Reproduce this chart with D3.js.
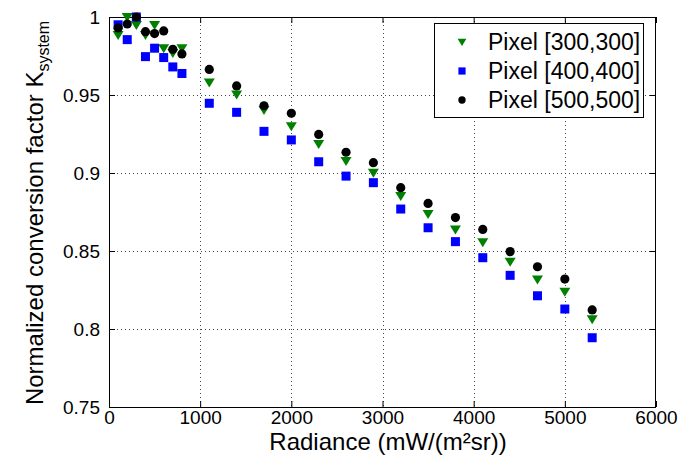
<!DOCTYPE html>
<html>
<head>
<meta charset="utf-8">
<script src="https://cdn.jsdelivr.net/npm/d3@7"></script>
<style>
  html, body { margin: 0; padding: 0; background: #fff; }
  svg { display: block; font-family: "Liberation Sans", Arial, Helvetica, sans-serif; }
</style>
</head>
<body>
<svg id="chart" width="694" height="462"></svg>
<script>
const radiance = [100, 200, 300, 400, 500, 600, 700, 800, 1100, 1400, 1700, 2000, 2300, 2600, 2900, 3200, 3500, 3800, 4100, 4400, 4700, 5000, 5300];
const pixel300 = [0.9885, 1.000, 0.9949, 0.9885, 0.9949, 0.980, 0.977, 0.980, 0.958, 0.9504, 0.9404, 0.930, 0.9186, 0.9077, 0.9002, 0.8853, 0.8737, 0.8638, 0.8556, 0.8431, 0.8318, 0.8239, 0.8062];
const pixel400 = [0.995, 0.9855, 1.000, 0.9746, 0.980, 0.974, 0.968, 0.9638, 0.9447, 0.9389, 0.9267, 0.9212, 0.9072, 0.898, 0.8938, 0.8769, 0.8649, 0.856, 0.8457, 0.8344, 0.8213, 0.8128, 0.7944];
const pixel500 = [0.993, 0.9955, 1.000, 0.9906, 0.9894, 0.9911, 0.9793, 0.9763, 0.9664, 0.9558, 0.9431, 0.9383, 0.9247, 0.9133, 0.9066, 0.8906, 0.8805, 0.8714, 0.8638, 0.8496, 0.8399, 0.832, 0.8122];
const seriesNames = ["Pixel [300,300]", "Pixel [400,400]", "Pixel [500,500]"];
const xTicks = [0, 1000, 2000, 3000, 4000, 5000, 6000];
const yTicks = [0.75, 0.8, 0.85, 0.9, 0.95, 1];
const yTickLabels = ["0.75", "0.8", "0.85", "0.9", "0.95", "1"];

const svg = d3.select("#chart");
const L = 109, R = 656, T = 17, B = 407;
const x = d3.scaleLinear().domain([0, 6000]).range([L, R]);
const y = d3.scaleLinear().domain([0.75, 1]).range([B, T]);

const series = [
  { name: seriesNames[0], values: pixel300, color: "#008000", shape: "tri" },
  { name: seriesNames[1], values: pixel400, color: "#0000ff", shape: "sq" },
  { name: seriesNames[2], values: pixel500, color: "#000000", shape: "circ" }
];

// grid
const grid = svg.append("g").attr("stroke", "#444").attr("stroke-width", 1).attr("stroke-dasharray", "1,3");
xTicks.slice(1, -1).forEach(t => {
  grid.append("line").attr("x1", Math.round(x(t)) + 0.5).attr("x2", Math.round(x(t)) + 0.5).attr("y1", T).attr("y2", B);
});
yTicks.slice(1, -1).forEach(t => {
  grid.append("line").attr("x1", L).attr("x2", R).attr("y1", Math.round(y(t)) + 0.5).attr("y2", Math.round(y(t)) + 0.5);
});

// axes
const fmt = d => yTickLabels[yTicks.indexOf(d)];
const xAxis = svg.append("g").attr("transform", `translate(0,${B})`)
  .call(d3.axisBottom(x).tickValues(xTicks).tickSize(-6).tickPadding(3).tickFormat(d3.format("d")));
const xAxisTop = svg.append("g").attr("transform", `translate(0,${T})`)
  .call(d3.axisTop(x).tickValues(xTicks).tickSize(-6).tickFormat(""));
const yAxis = svg.append("g").attr("transform", `translate(${L},0)`)
  .call(d3.axisLeft(y).tickValues(yTicks).tickSize(-6).tickPadding(9).tickFormat(fmt));
const yAxisR = svg.append("g").attr("transform", `translate(${R},0)`)
  .call(d3.axisRight(y).tickValues(yTicks).tickSize(-6).tickFormat(""));
[xAxis, xAxisTop, yAxis, yAxisR].forEach(g => {
  g.select(".domain").remove();
  g.selectAll(".tick line").attr("stroke", "#000");
  g.selectAll("text").attr("font-size", 19).attr("fill", "#000")
    .attr("font-family", "'Liberation Sans', Arial, Helvetica, sans-serif");
});
xAxis.selectAll("text").attr("dy", "0.72em");

svg.append("rect").attr("x", L + 0.5).attr("y", T + 0.5).attr("width", R - L - 1).attr("height", B - T)
  .attr("fill", "none").attr("stroke", "#000").attr("stroke-width", 1);

// markers
function drawMarker(g, shape, color, cx, cy, s) {
  if (shape === "tri") {
    g.append("path").attr("d", `M${cx - 5.5 * s},${cy - 4 * s}L${cx + 5.5 * s},${cy - 4 * s}L${cx},${cy + 5 * s}Z`).attr("fill", color);
  } else if (shape === "sq") {
    g.append("rect").attr("x", cx - 4.5 * s).attr("y", cy - 4.5 * s).attr("width", 9 * s).attr("height", 9 * s).attr("fill", color);
  } else {
    g.append("circle").attr("cx", cx).attr("cy", cy).attr("r", 4.6 * s).attr("fill", color);
  }
}
const marks = svg.append("g");
series.forEach(s => {
  const g = marks.append("g");
  s.values.forEach((v, i) => drawMarker(g, s.shape, s.color, x(radiance[i]), y(v), 1));
});

// legend
const lg = svg.append("g");
lg.append("rect").attr("x", 434.5).attr("y", 23.5).attr("width", 209).attr("height", 94)
  .attr("fill", "#fff").attr("stroke", "#000").attr("stroke-width", 1);
const rowY = [42, 71, 100];
series.forEach((s, i) => {
  drawMarker(lg, s.shape, s.color, 462, rowY[i], 0.8);
  lg.append("text").attr("x", 488).attr("y", rowY[i]).attr("dy", "0.36em")
    .attr("font-size", 23).attr("fill", "#000").text(s.name);
});

// axis labels
svg.append("text").attr("x", 388).attr("y", 450).attr("text-anchor", "middle")
  .attr("font-size", 24).attr("fill", "#000").text("Radiance (mW/(m²sr))");
const yl = svg.append("text").attr("transform", "translate(43,213) rotate(-90)")
  .attr("text-anchor", "middle").attr("font-size", 24).attr("fill", "#000");
yl.append("tspan").text("Normalized conversion factor K");
yl.append("tspan").attr("font-size", 16).attr("dy", 6).text("system");
</script>
</body>
</html>
